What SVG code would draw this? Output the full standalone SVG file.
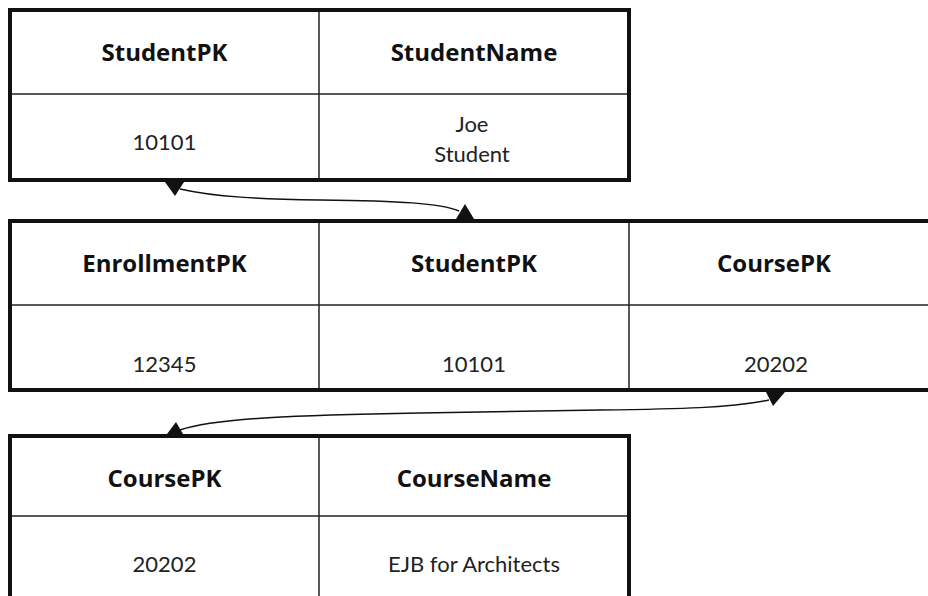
<svg xmlns="http://www.w3.org/2000/svg" width="928" height="596" viewBox="0 0 928 596">
<style>
.frame{fill:#fff;stroke:#111;stroke-width:4}
.grid{stroke:#222;stroke-width:1.5;fill:none}
.hd{font-family:"Open Sans","Noto Sans",sans-serif;font-weight:bold;font-size:24px;fill:#111;text-anchor:middle}
.val{font-family:Lato,"Open Sans",sans-serif;font-size:22px;fill:#222;text-anchor:middle}
.wire{fill:none;stroke:#111;stroke-width:1.5}
.head{fill:#111}
</style>
<rect width="928" height="596" fill="#fff"/>
<g id="student">
<rect class="frame" x="10" y="10" width="619" height="170"/>
<line class="grid" x1="319" y1="12" x2="319" y2="178"/>
<line class="grid" x1="12" y1="94" x2="627" y2="94"/>
<text class="hd" x="164.5" y="61">StudentPK</text>
<text class="hd" x="474" y="61">StudentName</text>
<text class="val" x="164.5" y="150">10101</text>
<text class="val" x="472" y="132">Joe</text>
<text class="val" x="472" y="162">Student</text>
</g>
<g id="enrollment">
<rect class="frame" x="10" y="221" width="925" height="169"/>
<line class="grid" x1="319" y1="223" x2="319" y2="388"/>
<line class="grid" x1="629" y1="223" x2="629" y2="388"/>
<line class="grid" x1="12" y1="305" x2="933" y2="305"/>
<text class="hd" x="164.5" y="272">EnrollmentPK</text>
<text class="hd" x="474" y="272">StudentPK</text>
<text class="hd" x="774" y="272">CoursePK</text>
<text class="val" x="164.5" y="372">12345</text>
<text class="val" x="474" y="372">10101</text>
<text class="val" x="776" y="372">20202</text>
</g>
<g id="course">
<rect class="frame" x="10" y="436" width="619" height="180"/>
<line class="grid" x1="319" y1="438" x2="319" y2="600"/>
<line class="grid" x1="12" y1="516" x2="627" y2="516"/>
<text class="hd" x="164.5" y="487">CoursePK</text>
<text class="hd" x="474" y="487">CourseName</text>
<text class="val" x="164.5" y="572">20202</text>
<text class="val" x="474" y="572">EJB for Architects</text>
</g>
<g id="connectors">
<path class="wire" d="M180,189 C215,197 260,199 320,200 C400,201 440,203 459,211"/>
<polygon class="head" points="165,182 184,182 175,196"/>
<polygon class="head" points="456,219 474,219 465,204"/>
<path class="wire" d="M769,400 C730,408 680,409 600,410 L420,413 C300,415 215,418 180,430"/>
<polygon class="head" points="766,392 785,392 773,406"/>
<polygon class="head" points="167,434 183,434 176,422"/>
</g>
</svg>
